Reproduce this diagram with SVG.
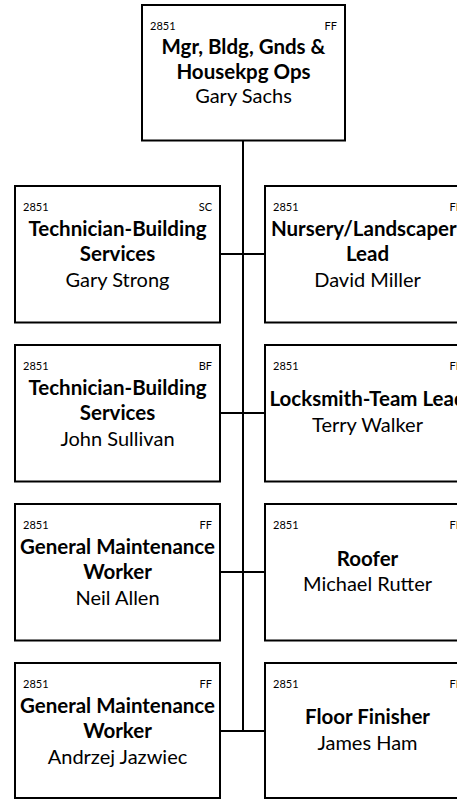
<svg xmlns="http://www.w3.org/2000/svg" width="457" height="800" viewBox="0 0 457 800">
<style>
rect.box{fill:#fff;stroke:#000;stroke-width:2}
.con line{stroke:#000;stroke-width:2}
text{font-family:Lato,"Liberation Sans",sans-serif;fill:#000}
.sm{font-size:11px}
.r{text-anchor:end}
.t{font-size:20.5px;font-weight:bold;text-anchor:middle}
.n{font-size:20px;text-anchor:middle}
</style>
<rect width="457" height="800" fill="#fff"/>
<g class="con" id="connectors">
<line x1="243" y1="140" x2="243" y2="732"/>
<line x1="220" y1="254" x2="265" y2="254"/>
<line x1="220" y1="413" x2="265" y2="413"/>
<line x1="220" y1="572" x2="265" y2="572"/>
<line x1="220" y1="731" x2="265" y2="731"/>
</g>
<g id="n0">
<rect class="box" x="142" y="5" width="203" height="135.5"/>
<text class="sm" x="150" y="30">2851</text><text class="sm r" x="337" y="30">FF</text>
<text class="t" x="243.5" y="54">Mgr, Bldg, Gnds &amp;</text>
<text class="t" x="243.5" y="78.5">Housekpg Ops</text>
<text class="n" x="243.5" y="103">Gary Sachs</text>
</g>
<g id="n1">
<rect class="box" x="15" y="186" width="205" height="136.5"/>
<text class="sm" x="23" y="211">2851</text><text class="sm r" x="212" y="211">SC</text>
<text class="t" x="117.5" y="235.5">Technician-Building</text>
<text class="t" x="117.5" y="261">Services</text>
<text class="n" x="117.5" y="286.5">Gary Strong</text>
</g>
<g id="n2">
<rect class="box" x="265" y="186" width="205" height="136.5"/>
<text class="sm" x="273" y="211">2851</text><text class="sm r" x="462" y="211">FF</text>
<text class="t" x="367.5" y="235.5">Nursery/Landscaper-</text>
<text class="t" x="367.5" y="261">Lead</text>
<text class="n" x="367.5" y="286.5">David Miller</text>
</g>
<g id="n3">
<rect class="box" x="15" y="345" width="205" height="136.5"/>
<text class="sm" x="23" y="370">2851</text><text class="sm r" x="212" y="370">BF</text>
<text class="t" x="117.5" y="394.5">Technician-Building</text>
<text class="t" x="117.5" y="420">Services</text>
<text class="n" x="117.5" y="445.5">John Sullivan</text>
</g>
<g id="n4">
<rect class="box" x="265" y="345" width="205" height="136.5"/>
<text class="sm" x="273" y="370">2851</text><text class="sm r" x="462" y="370">FF</text>
<text class="t" x="367.5" y="406">Locksmith-Team Lead</text>
<text class="n" x="367.5" y="432">Terry Walker</text>
</g>
<g id="n5">
<rect class="box" x="15" y="504" width="205" height="136.5"/>
<text class="sm" x="23" y="529">2851</text><text class="sm r" x="212" y="529">FF</text>
<text class="t" x="117.5" y="553.5">General Maintenance</text>
<text class="t" x="117.5" y="579">Worker</text>
<text class="n" x="117.5" y="604.5">Neil Allen</text>
</g>
<g id="n6">
<rect class="box" x="265" y="504" width="205" height="136.5"/>
<text class="sm" x="273" y="529">2851</text><text class="sm r" x="462" y="529">FF</text>
<text class="t" x="367.5" y="566">Roofer</text>
<text class="n" x="367.5" y="591">Michael Rutter</text>
</g>
<g id="n7">
<rect class="box" x="15" y="663" width="205" height="135"/>
<text class="sm" x="23" y="688">2851</text><text class="sm r" x="212" y="688">FF</text>
<text class="t" x="117.5" y="712.5">General Maintenance</text>
<text class="t" x="117.5" y="738">Worker</text>
<text class="n" x="117.5" y="763.5">Andrzej Jazwiec</text>
</g>
<g id="n8">
<rect class="box" x="265" y="663" width="205" height="135"/>
<text class="sm" x="273" y="688">2851</text><text class="sm r" x="462" y="688">FF</text>
<text class="t" x="367.5" y="724">Floor Finisher</text>
<text class="n" x="367.5" y="750">James Ham</text>
</g>
</svg>
